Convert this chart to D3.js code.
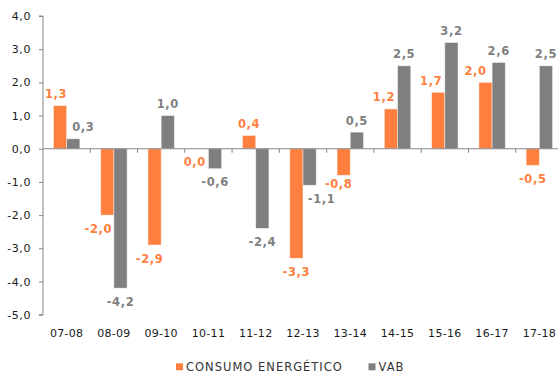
<!DOCTYPE html>
<html>
<head>
<meta charset="utf-8">
<script src="https://cdn.jsdelivr.net/npm/d3@7"></script>
<style>
  html, body { margin: 0; padding: 0; background: #fff; }
  svg { display: block; font-family: "DejaVu Sans", Verdana, sans-serif; }
</style>
</head>
<body>
<svg id="chart" width="558" height="376"></svg>
<script>
// Periods (fiscal years)
const categories = ["07-08","08-09","09-10","10-11","11-12","12-13","13-14","14-15","15-16","16-17","17-18"];
// Annual variation (%)
const consumo = [1.3, -2.0, -2.9, 0.0, 0.4, -3.3, -0.8, 1.2, 1.7, 2.0, -0.5];
const vab     = [0.3, -4.2, 1.0, -0.6, -2.4, -1.1, 0.5, 2.5, 3.2, 2.6, 2.5];
const yTicks  = [4, 3, 2, 1, 0, -1, -2, -3, -4, -5];
const seriesNames = ["CONSUMO ENERGÉTICO", "VAB"];

// Nudges for labels placed beside their bars (dx, dy in px)
const labelShiftX = {
  consumo: [-4, -9, -5, -7, 0, 0, -5, -7, -7, -10, 0],
  vab:     [10, 0, 0, 0, 0, 12, 0, 0, 0, 0, 0]
};
const labelShiftY = {
  consumo: [0, 0, 0, 0, 0, 0, -4.5, 0, 0, 0, 0],
  vab:     [0, 0, 0, 0, 0, 0, 0, 0, 0, 0, 0]
};

const colors = { consumo: "#FF7F3F", vab: "#7F7F7F" };
const fmt = v => d3.format(".1f")(v).replace(".", ",").replace("−", "-");

const svg = d3.select("#chart");
const plotLeft = 43, plotRight = 563, plotTop = 16, plotBottom = 314.7;

const y = d3.scaleLinear().domain([-5, 4]).range([plotBottom, plotTop]);
const x = d3.scaleBand().domain(categories).range([plotLeft, plotRight]).paddingInner(0).paddingOuter(0);
const x1 = d3.scaleBand().domain(["consumo", "vab"]).range([0, x.bandwidth()]).paddingInner(0).paddingOuter(0.79);

const series = [
  { key: "consumo", values: consumo },
  { key: "vab", values: vab }
];

// Bars
series.forEach(s => {
  svg.append("g").selectAll("rect")
    .data(s.values.map((v, i) => ({ v, cat: categories[i] })))
    .join("rect")
    .attr("x", d => x(d.cat) + x1(s.key))
    .attr("y", d => y(Math.max(0, d.v)))
    .attr("width", x1.bandwidth())
    .attr("height", d => Math.abs(y(d.v) - y(0)))
    .attr("fill", colors[s.key])
    .attr("stroke", "rgba(255,255,255,0.55)")
    .attr("stroke-width", 0.8);
});

// Y axis
const gy = svg.append("g").attr("transform", `translate(${plotLeft},0)`)
  .call(d3.axisLeft(y).tickValues(yTicks).tickSize(4).tickPadding(8).tickFormat(fmt));
gy.select(".domain").attr("stroke", "#868686").attr("d", `M-4,${y(4)}H0V${y(-5)}H-4`);
gy.selectAll(".tick line").attr("stroke", "#868686");
gy.selectAll(".tick text").attr("fill", "#1a1a1a").attr("font-size", 11)
  .style("letter-spacing", "0.6px").attr("font-family", "DejaVu Sans, Verdana, sans-serif");

// X axis along zero
const gx = svg.append("g");
gx.append("line").attr("x1", plotLeft).attr("x2", plotRight).attr("y1", y(0)).attr("y2", y(0))
  .attr("stroke", "#868686").attr("stroke-width", 1);
gx.selectAll("line.tk").data(categories)
  .join("line").attr("class", "tk")
  .attr("x1", d => x(d) + x.step())
  .attr("x2", d => x(d) + x.step())
  .attr("y1", y(0)).attr("y2", y(0) + 4)
  .attr("stroke", "#868686");
gx.selectAll("text").data(categories).join("text")
  .attr("x", d => x(d) + x.bandwidth() / 2)
  .attr("y", 333.5)
  .attr("dominant-baseline", "central")
  .attr("text-anchor", "middle")
  .attr("font-size", 11)
  .style("letter-spacing", "0.3px")
  .attr("fill", "#1a1a1a")
  .text(d => d);

// Value labels
series.forEach(s => {
  svg.append("g").selectAll("text")
    .data(s.values.map((v, i) => ({ v, i, cat: categories[i] })))
    .join("text")
    .attr("x", d => x(d.cat) + x1(s.key) + x1.bandwidth() / 2 + labelShiftX[s.key][d.i])
    .attr("y", d => (d.v > 0 ? y(d.v) - 11.5 : y(d.v) + 13.5) + labelShiftY[s.key][d.i])
    .attr("dominant-baseline", "central")
    .attr("text-anchor", "middle")
    .attr("font-size", 11.5)
    .attr("font-weight", "bold")
    .style("letter-spacing", "0.6px")
    .attr("fill", colors[s.key])
    .text(d => fmt(d.v));
});

// Legend
const legend = svg.append("g");
const legendItems = [
  { key: "consumo", name: seriesNames[0], x: 176 },
  { key: "vab", name: seriesNames[1], x: 368.5 }
];
legendItems.forEach(it => {
  legend.append("rect").attr("x", it.x).attr("y", 363.3).attr("width", 7).attr("height", 7)
    .attr("fill", colors[it.key]);
  legend.append("text").attr("x", it.x + 10).attr("y", 366.8)
    .attr("dominant-baseline", "central")
    .attr("font-size", 11.5)
    .style("letter-spacing", "1px")
    .attr("fill", "#333")
    .text(it.name);
});
</script>
</body>
</html>
